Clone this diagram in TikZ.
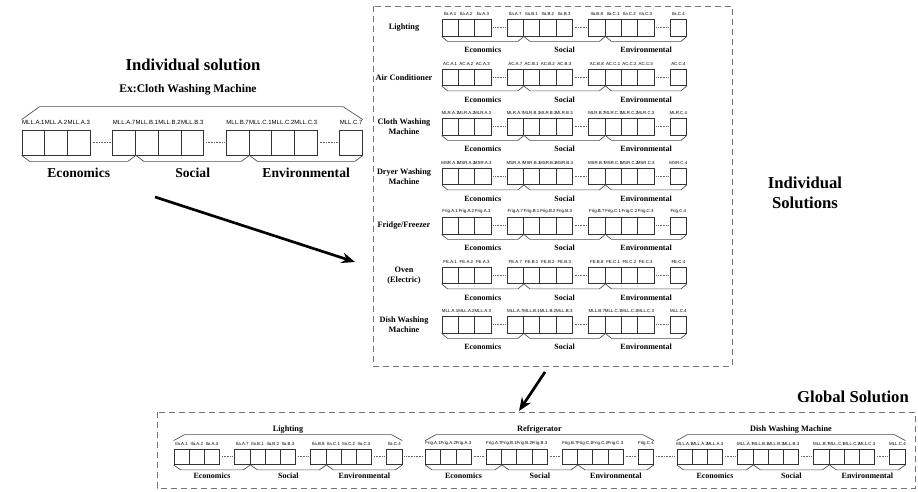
\documentclass[tikz,border=0pt]{standalone}
\usepackage{fontspec}
\setmainfont{Liberation Serif}
\newfontfamily\tagfamily{Liberation Sans}
\usetikzlibrary{positioning,arrows.meta}

\tikzset{
  critbox/.style={draw=black!80, line width=0.6pt, inner sep=0pt},
  critbrace/.style={draw=black!70, line width=0.5pt},
  dotgap/.style={draw=black!60, line width=0.45pt, dash pattern=on 0.6pt off 0.6pt},
  panel/.style={draw=black!55, line width=0.7pt, dash pattern=on 4.5pt off 3pt},
  bigarrow/.style={line width=2pt, -{Stealth[length=10pt,width=8pt]}},
  bigtitle/.style={font=\fontsize{12.5}{15}\selectfont\bfseries, align=center},
  subtitle/.style={font=\fontsize{8.7}{10}\selectfont\bfseries},
  apptitle/.style={font=\fontsize{6.2}{7.5}\selectfont\bfseries, align=center, inner sep=0pt},
  codetag/.style={font=\tagfamily\fontsize{3.3}{4}\selectfont, inner sep=0pt},
  critname/.style={font=\fontsize{6}{7}\selectfont\bfseries, inner sep=0pt},
}

% one row of criteria: name, x, y (top), unit, height, prefix, last B, last C
\newcommand{\critrow}[8]{%
  \foreach \u/\tg in {0/A.1,1/A.2,2/A.3,4/A.7,5/B.1,6/B.2,7/B.3,9/B.#7,10/C.1,11/C.2,12/C.3,14/C.#8} {
    \node[critbox, minimum width=#4*0.75pt, minimum height=#5*0.75pt] (#1-\u) at (#2+#4*\u+#4/2, #3+#5/2) {};
    \node[codetag, above=\tgap of #1-\u] (#1-t\u) {#6.\tg};
  }
  \draw[dotgap] ([xshift=1.5pt]#1-2.east) -- ([xshift=-1.5pt]#1-4.west);
  \draw[dotgap] ([xshift=1.5pt]#1-7.east) -- ([xshift=-1.5pt]#1-9.west);
  \draw[dotgap] ([xshift=1.5pt]#1-12.east) -- ([xshift=-1.5pt]#1-14.west);
  \draw[critbrace] (#1-0.south west) -- ++(\boff,\bdep) -- ([shift={(-\boff,\bdep)}]#1-4.south east) -- (#1-4.south east)
    -- ++(\boff,\bdep) -- ([shift={(-\boff,\bdep)}]#1-9.south east) -- (#1-9.south east)
    -- ++(\boff,\bdep) -- ([shift={(-\boff,\bdep)}]#1-14.south east) -- (#1-14.south east);
  \path (#1-0.south west) -- (#1-4.south east) node[critname, midway, below=\ngap] (#1-eco) {Economics};
  \path (#1-4.south east) -- (#1-9.south east) node[critname, midway, below=\ngap] (#1-soc) {Social};
  \path (#1-9.south east) -- (#1-14.south east) node[critname, midway, below=\ngap] (#1-env) {Environmental};
}

\begin{document}
\begin{tikzpicture}[x=0.75pt,y=-0.75pt]
  \useasboundingbox (0,0) rectangle (918,492);

  % --- Left: one appliance ---
  \node[bigtitle] (indtitle) at (193,65) {Individual solution};
  \node[subtitle] (extitle) at (188,90) {Ex:Cloth Washing Machine};
  \begin{scope}[codetag/.style={font=\tagfamily\fontsize{4.5}{5}\selectfont, inner sep=0pt},
                critname/.style={font=\fontsize{10.2}{12}\selectfont\bfseries, inner sep=0pt}]
    \def\tgap{3.5pt}\def\ngap{9.5pt}\def\bdep{6}\def\boff{8}
    \critrow{cw}{22}{130}{22.7}{25}{MLL}{7}{7}
    \draw[critbrace] ([shift={(0,-10)}]cw-0.north west) -- ([shift={(18,-23)}]cw-0.north west)
      -- ([shift={(-20,-23)}]cw-14.north east) -- ([shift={(0,-10)}]cw-14.north east);
  \end{scope}

  % --- Arrows ---
  \coordinate (a1s) at (155,197);
  \coordinate (a1e) at (355,262);
  \draw[bigarrow] (a1s) -- (a1e);
  \coordinate (a2s) at (545,372);
  \coordinate (a2e) at (519,411);
  \draw[bigarrow] (a2s) -- (a2e);

  % --- Right: individual solutions ---
  \draw[panel] (373,6) rectangle (732,366);
  \node[bigtitle] (indsols) at (805,193) {Individual\\Solutions};
  \begin{scope}
    \def\tgap{2.2pt}\def\ngap{8pt}\def\bdep{5}\def\boff{6}
    \critrow{lt}{442}{19.5}{16.3}{16.5}{Ila}{8}{4}
    \critrow{ac}{442}{69}{16.3}{16.5}{AC}{8}{4}
    \critrow{cl}{442}{118.5}{16.3}{16.5}{MLR}{7}{4}
    \critrow{dr}{442}{168}{16.3}{16.5}{MSR}{7}{4}
    \critrow{fr}{442}{217.5}{16.3}{16.5}{Frig}{7}{4}
    \critrow{ov}{442}{267}{16.3}{16.5}{FE}{8}{4}
    \critrow{dw}{442}{316.5}{16.3}{16.5}{MLL}{7}{4}
    \node[apptitle] (ltname) at (404,27.75) {Lighting};
    \node[apptitle] (acname) at (404,77.25) {Air Conditioner};
    \node[apptitle] (clname) at (404,126.75) {Cloth Washing\\Machine};
    \node[apptitle] (drname) at (404,176.25) {Dryer Washing\\Machine};
    \node[apptitle] (frname) at (404,225.75) {Fridge/Freezer};
    \node[apptitle] (ovname) at (404,275.25) {Oven\\(Electric)};
    \node[apptitle] (dwname) at (404,324.75) {Dish Washing\\Machine};
  \end{scope}

  % --- Bottom: global solution ---
  \draw[panel] (157,412) rectangle (915,488);
  \node[bigtitle] (globtitle) at (853,397) {Global Solution};
  \begin{scope}
    \def\tgap{2.2pt}\def\ngap{6pt}\def\bdep{5}\def\boff{7}
    \critrow{gl}{174}{449}{15.2}{15.5}{Ila}{8}{4}
    \critrow{gf}{425.5}{449}{15.2}{15.5}{Frig}{7}{4}
    \critrow{gd}{677}{449}{15.2}{15.5}{MLL}{7}{4}
    \draw[dotgap] ([xshift=1.5pt]gl-14.east) -- ([xshift=-1.5pt]gf-0.west);
    \draw[dotgap] ([xshift=1.5pt]gf-14.east) -- ([xshift=-1.5pt]gd-0.west);
    \foreach \g/\t in {gl/Lighting, gf/Refrigerator, gd/Dish Washing Machine} {
      \draw[critbrace] ([shift={(0,-8)}]\g-0.north west) -- ([shift={(11,-14)}]\g-0.north west)
        -- ([shift={(-11,-14)}]\g-14.north east) -- ([shift={(0,-8)}]\g-14.north east);
      \path (\g-0.north west) -- (\g-14.north east) node[apptitle, midway, above=11.5pt] (\g-title) {\t};
    }
  \end{scope}
\end{tikzpicture}
\end{document}
